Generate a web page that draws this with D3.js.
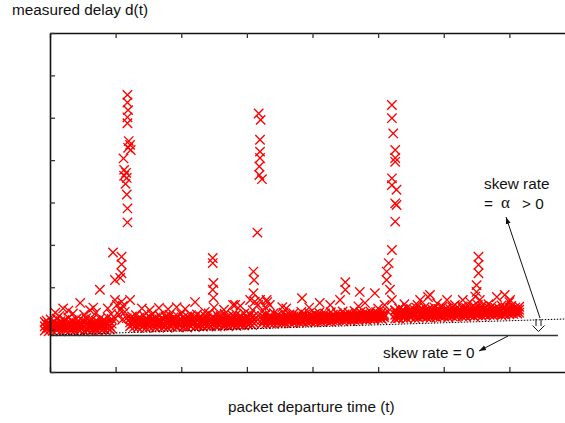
<!DOCTYPE html>
<html>
<head>
<meta charset="utf-8">
<script src="https://cdn.jsdelivr.net/npm/d3@7"></script>
<style>
  body { margin: 0; background: #fff; }
  text { font-family: "Liberation Sans", Arial, sans-serif; font-size: 15.3px; fill: #111; }
</style>
</head>
<body>
<svg id="chart" width="565" height="423"></svg>
<script>
// departure time (arbitrary units) vs measured delay
// band rows: [t, delay, delay, delay] -> three probes per send slot
var band1 = [[-8,98,108,118],[-5,104,112,121],[-2,96,104,112],[1,101,110,124],[4,97,106,115],[7,106,113,119],
  [10,99,111,126],[13,103,108,113],[16,96,107,120],[19,108,112,117],[22,100,110,123],[25,97,104,110],
  [28,105,115,128],[31,99,108,116],[34,102,111,121],[37,97,105,112],[40,107,115,125],[43,100,109,118],
  [46,98,106,114],[49,104,112,122],[52,96,108,119],[55,101,113,127],[58,99,106,113],[61,106,112,120],
  [64,98,110,124],[67,103,109,115],[70,100,111,121],[73,97,107,118],[76,105,114,126],[79,99,106,112],
  [82,102,112,123],[85,98,108,117],[88,104,116,129],[91,100,109,119],[94,103,114,125]]
var band2 = [[122,108,117,126],[125,113,121,131],[128,106,114,121],[131,110,122,134],[134,105,115,124],
  [137,112,120,129],[140,107,113,119],[143,109,121,133],[146,104,115,126],[149,111,117,122],[152,106,118,130],
  [155,113,124,136],[158,108,116,124],[161,105,117,128],[164,110,115,120],[167,107,120,133],[170,112,119,127],
  [173,106,114,123],[176,109,120,131],[179,104,115,125],[182,111,123,135],[185,107,114,121],[188,113,121,129],
  [191,108,117,126],[194,106,119,132],[197,110,116,122],[200,112,124,137],[203,107,118,128],[206,109,116,124],
  [209,105,118,131],[212,111,119,127],[215,108,121,134],[218,113,118,123],[221,106,117,129],[224,110,123,136],
  [227,108,116,125],[230,112,121,131],[233,107,114,121],[236,114,123,133],[239,109,118,127],[242,111,124,138],
  [245,108,116,124],[248,113,121,130],[251,110,118,126],[254,107,121,135],[257,112,120,129],[260,115,123,132],
  [263,109,116,124],[266,111,124,137],[269,113,120,128],[272,108,119,131],[275,114,120,126],[278,110,122,134],
  [281,112,120,129],[284,109,122,136],[287,115,121,127],[290,111,122,133],[293,113,119,125],[296,110,124,138],
  [299,116,123,130],[302,112,119,127],[305,114,124,135],[308,111,120,129],[311,115,123,132]]
var band3 = [[323,114,123,132],[326,118,122,128],[329,113,125,137],[332,120,123,126],[335,115,124,134],
  [338,117,123,130],[341,114,126,139],[344,119,123,127],[347,116,125,135],[350,121,126,131],[353,115,121,128],
  [356,118,129,140],[359,116,124,133],[362,120,124,129],[365,117,126,136],[368,122,126,131],[371,116,127,138],
  [374,119,123,127],[377,121,127,134],[380,117,123,130],[383,120,131,142],[386,118,125,132],[389,123,129,136],
  [392,117,123,129],[395,121,130,139],[398,119,126,133],[401,122,125,128],[404,118,127,137],[407,120,125,131],
  [410,124,132,140],[413,119,126,134],[416,121,125,130],[419,123,130,138],[422,120,126,133],[425,125,127,129],
  [428,119,130,141],[431,122,128,135],[434,124,127,131],[437,120,129,139],[440,123,128,134],[443,126,128,130],
  [446,121,132,143],[449,124,130,136],[452,122,127,132],[455,127,133,140],[458,121,128,135],[461,125,128,131],
  [464,123,133,144],[467,126,131,137],[470,122,127,133],[473,127,134,141],[476,124,130,136],[479,126,129,132],
  [482,123,131,139],[485,128,131,135],[488,125,134,143],[491,127,132,137],[494,124,128,133],[497,129,135,141],
  [500,126,132,138],[503,128,131,134],[506,125,133,142],[509,129,133,137]]
var band4 = [[526,126,135,145],[529,131,135,139],[532,127,138,150],[535,133,137,141],[538,128,137,147],
  [541,130,134,138],[544,126,139,152],[547,132,137,143],[550,129,139,149],[553,134,137,140],[556,127,136,146],
  [559,131,141,151],[562,128,135,142],[565,133,140,148],[568,130,134,139],[571,135,144,153],[574,129,136,144],
  [577,132,140,149],[580,128,134,141],[583,134,140,147],[586,131,141,152],[589,129,136,143],[592,136,142,149],
  [595,130,135,140],[598,133,143,154],[601,131,138,145],[604,135,142,150],[607,129,135,142],[610,134,141,148],
  [613,132,142,153],[616,136,140,144],[619,130,140,150],[622,133,137,141],[625,137,142,147],[628,131,143,155],
  [631,134,140,146],[634,132,141,151],[637,138,140,143],[640,133,141,149],[643,135,144,154],[646,131,138,145],
  [649,137,143,150],[652,134,138,142],[655,139,143,148],[658,132,144,156],[661,136,141,147],[664,134,143,152],
  [667,139,141,144],[670,135,142,150],[673,137,146,155],[676,133,139,146],[679,138,144,151],[682,136,139,143],
  [685,140,144,149],[688,134,145,157],[691,137,142,148],[694,135,144,153],[697,141,143,145],[700,136,143,151],
  [703,139,147,156],[706,137,142,147],[709,141,146,152],[712,138,143,149],[715,140,147,154]]

// queueing bursts: [t, delay]
var spike1 = [[118,654],[118,636],[119,618],[118,601],[118,587],[120,545],[122,536],[119,529],[123,524],
  [112,504],[113,477],[116,470],[113,463],[117,458],[115,444],[117,419],[118,386],[118,353],[96,282],
  [109,272],[109,254],[109,233],[99,217],[107,222],[99,170],[109,166],[122,170],[102,158],[107,146],
  [111,156],[105,135],[114,142],[117,127],[99,127],[110,123]]
var spike2 = [[318,610],[321,595],[320,548],[320,520],[320,505],[319,485],[319,465],[323,455],[316,329],
  [310,237],[311,217],[310,186],[312,166],[320,170],[330,170],[282,158],[309,146],[317,158],[323,142],
  [314,127],[328,153],[305,135]]
var spikeSmall = [[248,269],[248,257],[249,210],[248,194],[249,175],[450,212],[450,194]]
var spike3 = [[521,630],[521,599],[523,563],[526,524],[526,505],[526,496],[521,457],[521,441],[528,430],
  [526,398],[528,394],[526,355],[521,288],[516,257],[513,237],[513,217],[518,194],[495,186],[472,189],
  [510,158],[521,170],[515,142],[526,146],[530,127],[507,132]]
var spike4 = [[653,272],[653,253],[653,233],[650,205],[650,189],[648,178],[655,170],[652,158],[658,146],[648,142]]
var outliers = [[8,140],[14,132],[46,163],[61,146],[35,138],[52,135],[76,194],[70,140],[88,150],[93,137],
  [20,150],[28,145],[66,152],[140,150],[180,148],[250,152],[265,147],
  [152,146],[166,151],[193,153],[206,149],[221,165],[236,142],[279,158],[290,156],[305,170],[331,165],
  [335,158],[354,153],[360,150],[384,174],[395,152],[411,163],[427,158],[442,170],[470,155],[480,163],[500,150],
  [540,160],[560,158],[564,170],[579,182],[576,177],[590,162],[605,170],[617,158],[629,170],[640,165],
  [668,160],[681,177],[693,182],[700,165],[701,170]]

// reference lines
var skewZero = [[0,86],[774,86]]
var skewAlpha = [[0,87.3],[800,125.8]]

var xTicks = [0,100,200,300,400,500,600,700,800]
var yTicks = [0,100,200,300,400,500,600,700,800]

var svg = d3.select('#chart')
var x = d3.scaleLinear().domain([0,800]).range([50,575])
var y = d3.scaleLinear().domain([0,800]).range([372,33])

var pts = []
;[band1,band2,band3,band4].forEach(b=>{
  b.forEach(r=>{ r.slice(1).forEach(d=>pts.push([r[0],d])) })
})
pts = pts.concat(spike1,spike2,spikeSmall,spike3,spike4,outliers)

// markers
svg.append('g')
  .selectAll('path')
  .data(pts)
  .join('path')
  .attr('transform',d=>`translate(${x(d[0])},${y(d[1])})`)
  .attr('d','M-4.7,-4.7L4.7,4.7M-4.7,4.7L4.7,-4.7')
  .attr('stroke','#ff0000')
  .attr('stroke-width',1.35)
  .attr('fill','none')

var line = d3.line().x(d=>x(d[0])).y(d=>y(d[1]))
svg.append('path').attr('d',line(skewZero))
  .attr('stroke','#333').attr('stroke-width',1.4).attr('fill','none')
svg.append('path').attr('d',line(skewAlpha))
  .attr('stroke','#000').attr('stroke-width',1).attr('stroke-dasharray','1.5,1.5').attr('fill','none')

// axes (gnuplot style inward ticks, no labels)
function styleAxis(g){
  g.selectAll('path').attr('stroke','#111').attr('stroke-width',1.6)
  g.selectAll('line').attr('stroke','#333').attr('stroke-width',1.3)
}
svg.append('g').attr('transform','translate(0,372)')
  .call(d3.axisBottom(x).tickValues(xTicks).tickSize(-5).tickSizeOuter(0).tickFormat(''))
  .call(styleAxis)
svg.append('g').attr('transform','translate(0,33)')
  .call(d3.axisTop(x).tickValues(xTicks).tickSize(-5).tickSizeOuter(0).tickFormat(''))
  .call(styleAxis)
svg.append('g').attr('transform','translate(50,0)')
  .call(d3.axisLeft(y).tickValues(yTicks).tickSize(-5).tickSizeOuter(0).tickFormat(''))
  .call(styleAxis)

// arrows
var defs = svg.append('defs')
defs.append('marker').attr('id','head').attr('viewBox','0 0 10 10')
  .attr('refX',10).attr('refY',5).attr('markerWidth',7).attr('markerHeight',7)
  .attr('orient','auto-start-reverse')
  .append('path').attr('d','M0,1.5L10,5L0,8.5Z').attr('fill','#111')

svg.append('line').attr('x1',540).attr('y1',318).attr('x2',506).attr('y2',217)
  .attr('stroke','#111').attr('stroke-width',1).attr('marker-end','url(#head)')
svg.append('path').attr('d','M536,319V326M541,319V326M532.5,325.5L538.5,331.5L544.5,325.5')
  .attr('stroke','#111').attr('stroke-width',1).attr('fill','none')
svg.append('line').attr('x1',508).attr('y1',336).attr('x2',479).attr('y2',351)
  .attr('stroke','#111').attr('stroke-width',1).attr('marker-end','url(#head)')

// labels
svg.append('text').attr('x',12).attr('y',15).text('measured delay d(t)')
svg.append('text').attr('x',228).attr('y',412).text('packet departure time (t)')
svg.append('text').attr('x',383).attr('y',358).text('skew rate = 0')
svg.append('text').attr('x',484).attr('y',189).text('skew rate')
svg.append('text').attr('x',484).attr('y',209).text('=')
svg.append('text').attr('x',501).attr('y',208).style('font-family','"Liberation Serif", "DejaVu Serif", serif').style('font-size','17px').text('α')
svg.append('text').attr('x',522).attr('y',209).text('> 0')
</script>
</body>
</html>
